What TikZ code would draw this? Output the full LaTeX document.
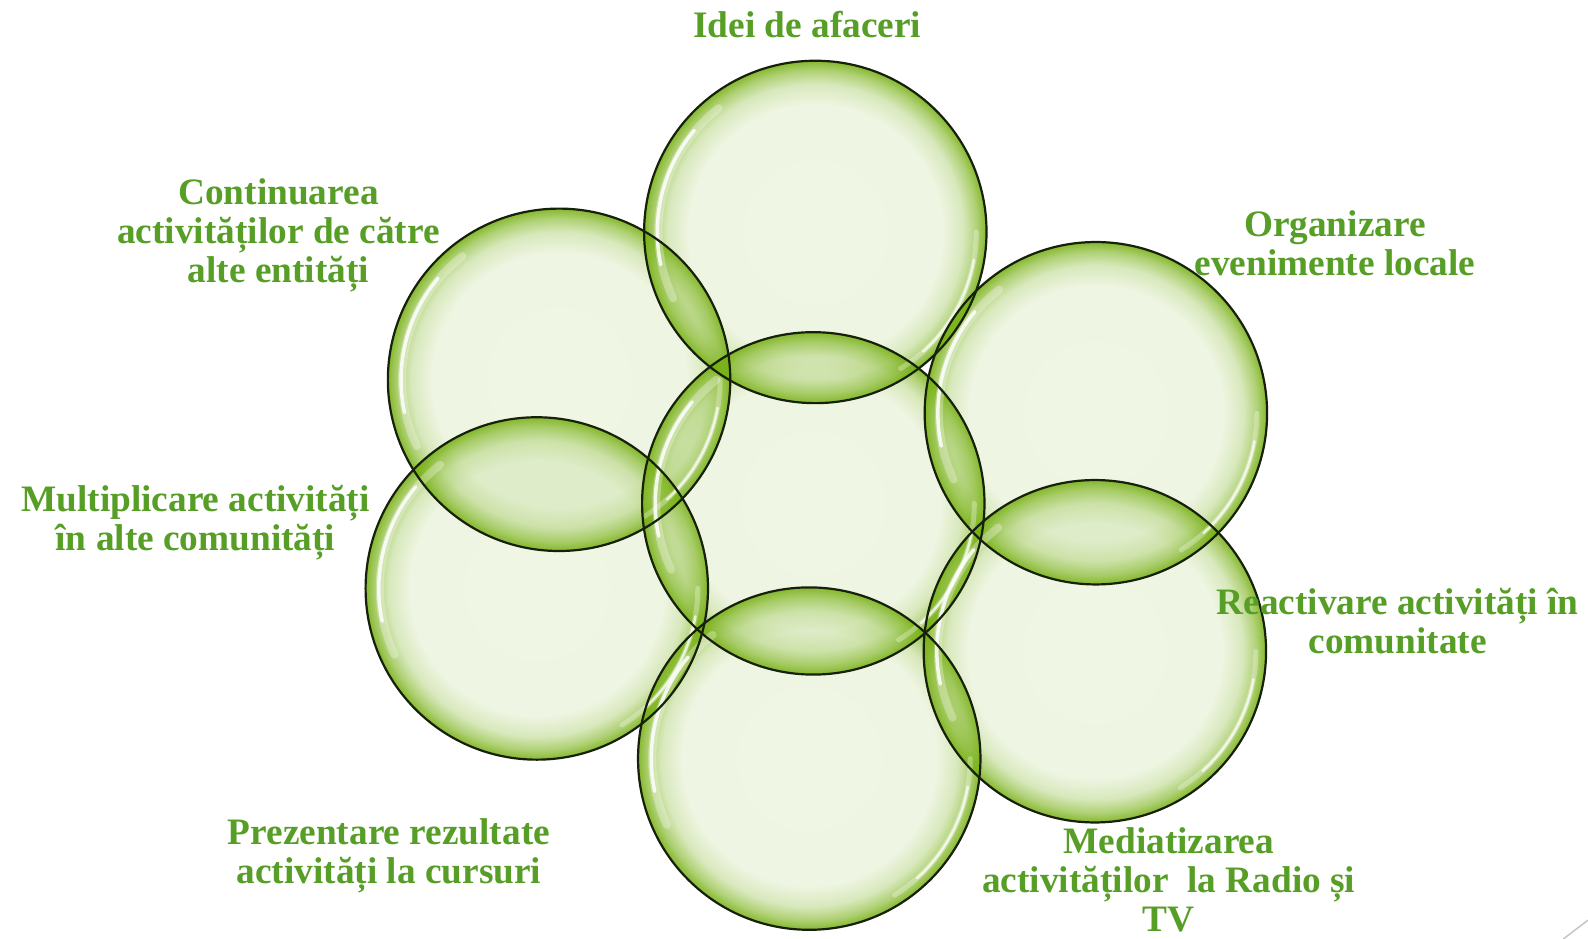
\documentclass[tikz,border=0pt]{standalone}
\usepackage{fontspec}
\setmainfont{Liberation Serif}
\usetikzlibrary{fadings}
\definecolor{bgreen}{RGB}{118,176,18}
\definecolor{tgreen}{RGB}{86,158,38}
\definecolor{rimline}{RGB}{22,32,10}
\pgfdeclareradialshading{bubblefadeshade}{\pgfpointorigin}{color(0bp)=(pgftransparent!89); color(18.5bp)=(pgftransparent!88); color(21.5bp)=(pgftransparent!72); color(23.5bp)=(pgftransparent!42); color(25bp)=(pgftransparent!10); color(50bp)=(pgftransparent!10)}
\pgfdeclarefading{bubblefade}{\pgfuseshading{bubblefadeshade}}
\tikzset{
  lbl/.style={text=tgreen, font=\fontsize{37.3}{39}\selectfont\bfseries, align=center, inner sep=0pt},
  rimstroke/.style={draw=rimline, line width=2.2pt},
  hl/.style={white, line cap=round},
}
\newcommand{\bubblefill}[1]{\fill[bgreen, path fading=bubblefade] (#1) circle[radius=171.2pt];}
\newcommand{\bubblehl}[1]{%
  \draw[hl, line width=8pt, opacity=0.3] (#1) ++(128:157pt) arc[start angle=128, end angle=205, radius=157pt];
  \draw[hl, line width=3.5pt, opacity=0.85] (#1) ++(140:158pt) arc[start angle=140, end angle=192, radius=158pt];
  \draw[hl, line width=5pt, opacity=0.3] (#1) ++(0:161pt) arc[start angle=0, end angle=-58, radius=161pt];
  \draw[hl, line width=2.5pt, opacity=0.75] (#1) ++(-10:161pt) arc[start angle=-10, end angle=-48, radius=161pt];
}
\begin{document}
\begin{tikzpicture}[x=1.0128pt,y=-1.0128pt]
\useasboundingbox (0,0) rectangle (1567.9,927.1);
\fill[white] (0,0) rectangle (1567.9,927.1);
\coordinate (ctop) at (805,229);
\coordinate (cmid) at (803,497);
\coordinate (cul) at (552,375);
\coordinate (cll) at (530,581);
\coordinate (cbot) at (799,749);
\coordinate (cur) at (1082,408);
\coordinate (clr) at (1081,643);
\foreach \c in {ctop,cmid,cul,cll,cbot,cur,clr}{\bubblefill{\c}}
\foreach \c in {ctop,cmid,cul,cll,cbot,cur,clr}{\bubblehl{\c}}
\foreach \c in {ctop,cmid,cul,cll,cbot,cur,clr}{\draw[rimstroke] (\c) circle[radius=171.2pt];}
\node[lbl] (l1) at (797,24) {Idei de afaceri};
\node[lbl] (l2) at (275,232) {Continuarea\\activităților de către\\alte entități};
\node[lbl] (l3) at (1318,240) {Organizare\\evenimente locale};
\node[lbl] (l4) at (193,516) {Multiplicare activități\\în alte comunități};
\node[lbl] (l5) at (1380,613) {Reactivare activități în\\comunitate};
\node[lbl] (l6) at (384,845) {Prezentare rezultate\\activități la cursuri};
\node[lbl] (l7) at (1154,869) {Mediatizarea\\activităților\ \ la Radio și\\TV};
\coordinate (k1) at (1543.5,927.1);
\coordinate (k2) at (1567.9,908.5);
\draw[gray!45, line width=1.5pt] (k1) -- (k2);
\end{tikzpicture}
\end{document}
